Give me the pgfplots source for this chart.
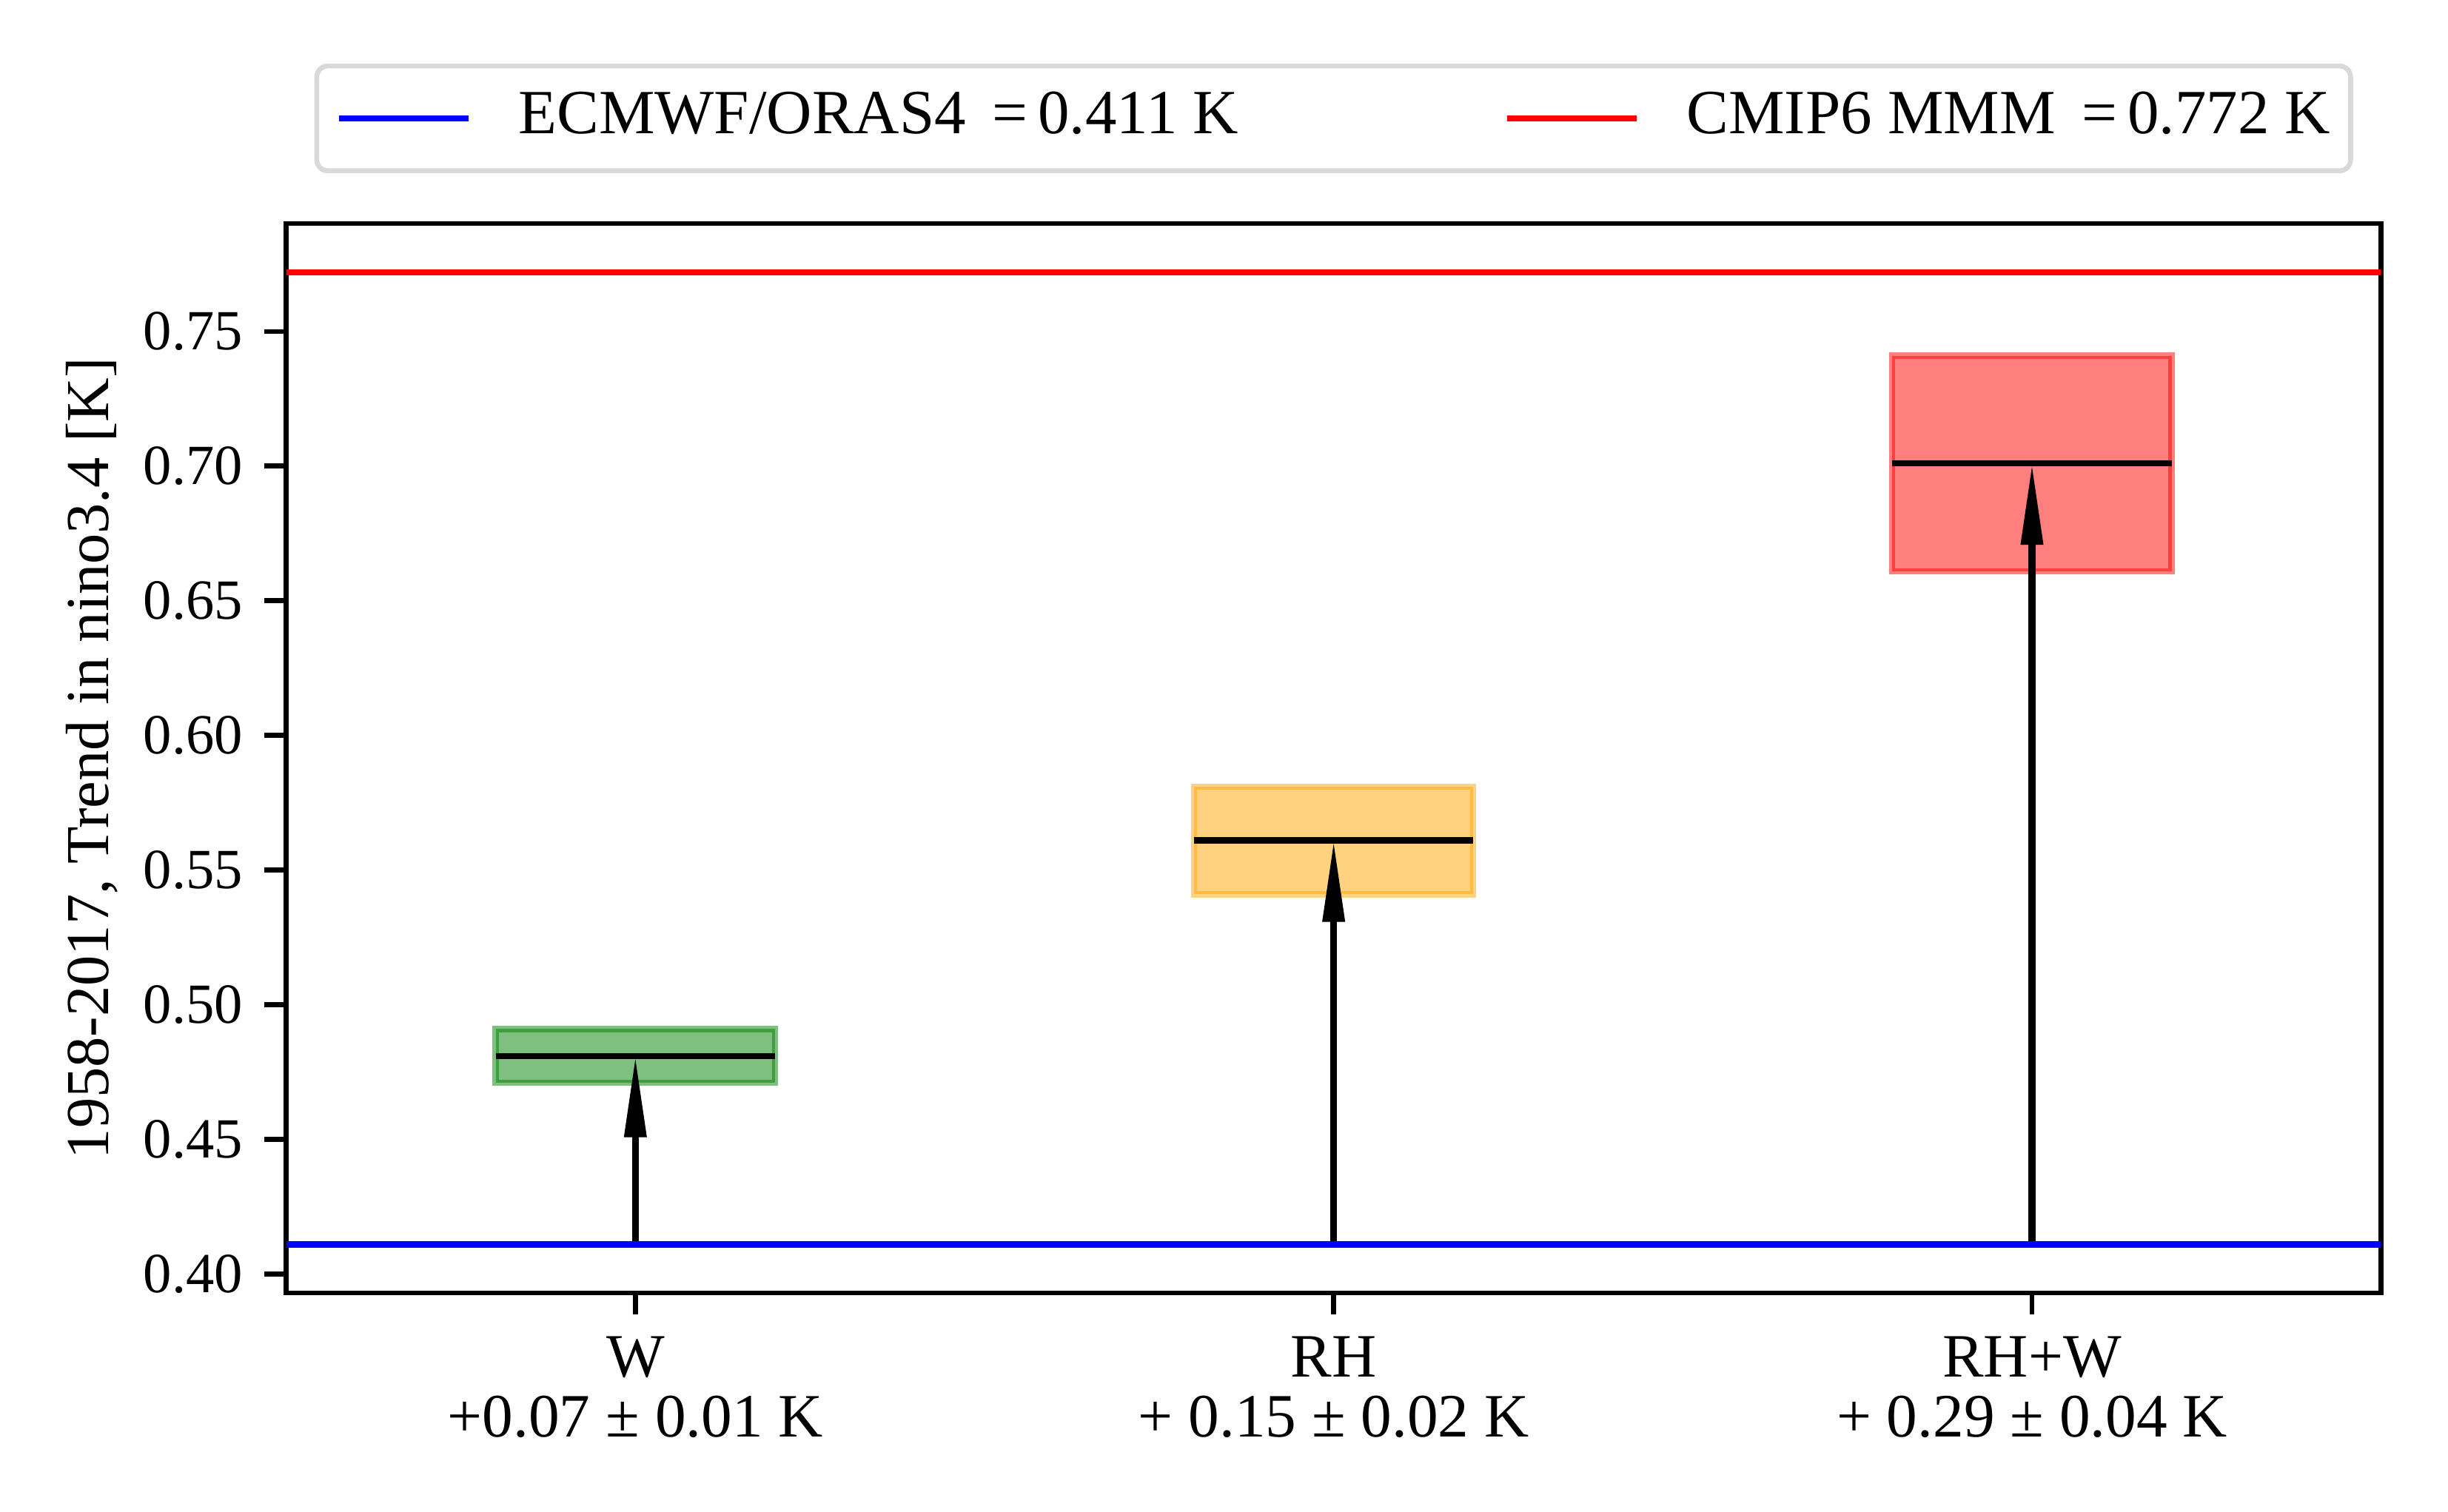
\documentclass[border=0pt]{standalone}
\usepackage{fontspec}
\setmainfont{Liberation Serif}
\usepackage{pgfplots}
\pgfplotsset{compat=1.18}
\usetikzlibrary{arrows.meta}
\definecolor{mplgreen}{RGB}{0,128,0}
\definecolor{mplorange}{RGB}{255,165,0}
\definecolor{mplred}{RGB}{255,0,0}
\definecolor{mplblue}{RGB}{0,0,255}
\begin{document}
\fontsize{10}{12}\selectfont
\begin{tikzpicture}
\useasboundingbox (0,0) rectangle (396.84pt,245.16pt);
\begin{axis}[
  at={(46.4pt,35.5pt)}, anchor=south west,
  scale only axis, width=339.6pt, height=173.4pt,
  xmin=-0.5, xmax=2.5, ymin=0.39295, ymax=0.79005,
  axis line style={line width=0.8pt},
  tick align=outside, major tick length=3.5pt,
  every tick/.style={black, line width=0.8pt},
  xtick pos=lower, ytick pos=left,
  xtick={0,1,2},
  xticklabels={{W\\+0.07 ± 0.01 K},{RH\\+ 0.15 ± 0.02 K},{RH+W\\+ 0.29 ± 0.04 K}},
  xticklabel style={align=center, font=\fontsize{10}{9.8}\selectfont},
  ytick={0.40,0.45,0.50,0.55,0.60,0.65,0.70,0.75},
  yticklabel style={font=\fontsize{9.2}{11}\selectfont, /pgf/number format/.cd, fixed, fixed zerofill, precision=2},
  /pgf/number format/assume math mode=true,
  ylabel={1958-2017, Trend in nino3.4 [K]},
  ylabel style={at={(axis description cs:0,0.5)}, yshift=31.5pt, anchor=center, font=\fontsize{9.9}{12}\selectfont},
  legend columns=2,
  legend style={
    at={(0.5,1.0984)}, anchor=center,
    draw=black!15, line width=0.8pt, rounded corners=1.8pt,
    inner xsep=3.1pt, inner ysep=4pt,
    font=\fontsize{10.2}{12}\selectfont,
    nodes={inner sep=0pt, text height=7pt, text depth=2pt},
    cells={anchor=west},
    /tikz/column 1/.style={column sep=7.6pt},
    /tikz/column 2/.style={column sep=42.8pt},
    /tikz/column 3/.style={column sep=7.6pt},
  },
  legend image code/.code={\draw[#1, line width=1pt] (0pt,0pt) -- (21pt,0pt);},
]
% boxes
\addplot[forget plot, fill=mplgreen, draw=mplgreen, fill opacity=0.5, draw opacity=0.5, line width=1pt]
  coordinates {(-0.2,0.471) (0.2,0.471) (0.2,0.491) (-0.2,0.491)} -- cycle;
\addplot[forget plot, fill=mplorange, draw=mplorange, fill opacity=0.5, draw opacity=0.5, line width=1pt]
  coordinates {(0.8,0.541) (1.2,0.541) (1.2,0.581) (0.8,0.581)} -- cycle;
\addplot[forget plot, fill=mplred, draw=mplred, fill opacity=0.5, draw opacity=0.5, line width=1pt]
  coordinates {(1.8,0.661) (2.2,0.661) (2.2,0.741) (1.8,0.741)} -- cycle;
% medians
\addplot[forget plot, black, line width=1pt] coordinates {(-0.2,0.481) (0.2,0.481)};
\addplot[forget plot, black, line width=1pt] coordinates {(0.8,0.561) (1.2,0.561)};
\addplot[forget plot, black, line width=1pt] coordinates {(1.8,0.701) (2.2,0.701)};
% arrows
\addplot[forget plot, black, line width=1.1pt, -{Triangle[length=13.2pt,width=3.4pt]}] coordinates {(0,0.411) (0,0.481)};
\addplot[forget plot, black, line width=1.1pt, -{Triangle[length=13.2pt,width=3.4pt]}] coordinates {(1,0.411) (1,0.561)};
\addplot[forget plot, black, line width=1.1pt, -{Triangle[length=13.2pt,width=3.4pt]}] coordinates {(2,0.411) (2,0.701)};
% reference lines
\addplot[mplblue, line width=1pt] coordinates {(-0.5,0.411) (2.5,0.411)};
\addlegendentry{\makebox[117pt][l]{ECMWF/ORAS4 \,=\,0.411 K}}
\addplot[mplred, line width=1pt] coordinates {(-0.5,0.772) (2.5,0.772)};
\addlegendentry{\makebox[104.5pt][l]{CMIP6 MMM \,=\,0.772 K}}
\end{axis}
\end{tikzpicture}
\end{document}
